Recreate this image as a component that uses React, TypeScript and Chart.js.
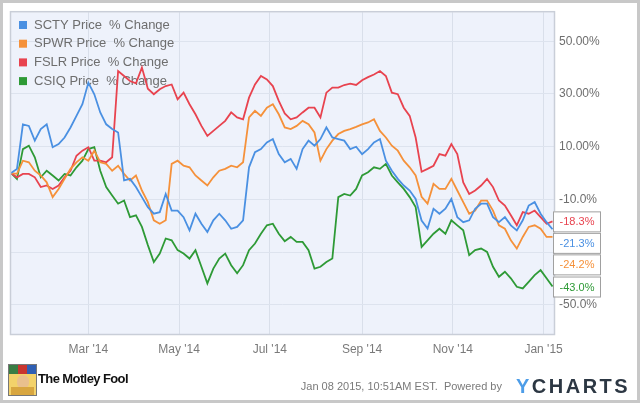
import React, { useEffect, useRef } from "react";
import { Chart, registerables } from "chart.js";

Chart.register(...registerables);

// Trading-day offsets (days since Jan 08 2014)
const days = [
  0, 4, 8, 12, 16, 20, 24, 28, 32, 36, 40, 44, 48, 52, 56, 60, 64, 68, 72, 76, 80, 84, 88, 92,
  96, 100, 104, 108, 112, 116, 120, 124, 128, 132, 136, 140, 144, 148, 152, 156, 160, 164, 168, 172, 176, 180, 184,
  188, 192, 196, 200, 204, 208, 212, 216, 220, 224, 228, 232, 236, 240, 244, 248, 252, 256, 260, 264, 268, 272, 276,
  280, 284, 288, 292, 296, 300, 304, 308, 312, 316, 320, 324, 328, 332, 336, 340, 344, 348, 352, 356, 360, 364,
];

const scty = [
  0, 1.6, 18.5, 17.9, 12.3, 16.7, 18.5, 9.8, 11.0, 13.5, 17.3, 21.7, 26.1, 34.3, 29.9, 23.0, 18.5, 16.7, 15.4, -2.8, -2.2, -5.3, -9.1, -12.9,
  -15.4, -14.8, -7.9, -14.2, -14.2, -16.7, -21.7, -15.4, -19.2, -22.3, -17.9, -15.4, -17.9, -21.1, -20.4, -17.9, 2.2, 7.9, 9.1, 11.6, 12.9, 7.2, 4.1,
  5.4, 1.6, 9.1, 12.3, 10.4, 12.9, 17.3, 13.5, 12.9, 12.3, 9.1, 10.0, 7.2, 9.1, 11.6, 12.9, 4.7, 0.9, -2.2, -4.7, -6.6, -9.8, -18.0,
  -21.0, -13.5, -15.4, -13.5, -9.8, -16.7, -18.6, -17.9, -13.5, -11.6, -11.6, -16.7, -18.6, -16.7, -19.8, -21.7, -17.9, -12.3, -11.0, -15.4, -18.6, -21.3,
];

const spwr = [
  0, -0.3, 4.7, 4.1, 0.9, -0.9, -3.5, -9.1, -6.0, -2.2, 1.6, 4.1, 6.0, 4.7, 8.5, 4.1, 3.5, 0.9, 2.8, -0.3, -2.8, -0.9, -6.6, -11.0,
  -17.9, -19.2, -17.9, 3.5, 4.7, 2.8, 2.2, -0.9, -2.8, -4.7, -1.6, 0.9, 1.6, 2.8, 2.2, 4.1, 21.1, 23.6, 21.7, 24.8, 26.1, 22.3, 17.3,
  16.7, 17.9, 19.8, 18.5, 15.4, 4.7, 9.1, 12.3, 14.8, 16.0, 16.7, 17.5, 18.5, 19.2, 20.4, 16.0, 13.5, 10.4, 8.5, 4.7, 2.2, -0.9, -9.0,
  -11.6, -4.1, -6.0, -6.0, -2.2, -6.6, -11.0, -15.4, -14.2, -10.4, -10.4, -14.2, -19.8, -21.1, -25.5, -28.6, -24.2, -20.4, -19.8, -21.1, -24.2, -24.2,
];

const fslr = [
  0, -1.6, -0.3, -0.3, -1.6, -5.3, -4.7, -6.0, -4.7, -1.6, 0.9, 6.6, 8.5, 9.8, 4.7, 4.7, 4.1, 6.0, 38.7, 36.8, 34.9, 34.0, 40.0, 32.0,
  29.9, 31.8, 33.0, 33.6, 28.0, 30.5, 26.1, 22.3, 17.9, 14.1, 16.0, 17.9, 19.8, 23.0, 21.1, 20.4, 28.6, 33.6, 36.8, 35.5, 33.0, 27.4, 22.6,
  20.4, 21.1, 23.0, 24.8, 24.8, 21.1, 30.5, 32.4, 32.4, 33.4, 33.9, 33.4, 35.2, 36.4, 37.4, 38.7, 36.8, 30.5, 29.9, 24.8, 21.7, 13.5, 0.5,
  1.6, 2.8, 7.2, 6.6, 11.0, 7.2, -3.5, -7.9, -6.6, -4.7, -2.2, -5.3, -10.4, -12.3, -16.0, -19.8, -14.8, -15.4, -14.2, -16.7, -19.2, -18.3,
];

const csiq = [
  0, -2.2, 9.1, 10.4, 6.0, -1.6, 0.9, -0.9, -2.8, -0.3, -0.9, 2.2, 4.7, 9.1, 9.8, 0.9, -5.3, -8.5, -11.6, -10.4, -16.7, -16.0, -20.4, -27.3,
  -33.7, -30.5, -24.8, -25.5, -29.2, -30.5, -32.4, -29.2, -35.5, -41.8, -36.2, -32.4, -30.5, -34.9, -38.0, -34.9, -29.2, -26.7, -23.0, -19.8, -19.2, -23.0, -25.8,
  -24.2, -26.1, -26.1, -29.2, -36.2, -35.5, -33.7, -32.4, -9.1, -7.9, -8.5, -6.0, -0.9, 0.3, 2.2, 1.6, 3.5, -0.9, -3.5, -6.0, -9.1, -12.9, -28.0,
  -25.5, -23.0, -21.1, -23.0, -17.9, -19.8, -21.7, -31.1, -29.2, -28.6, -29.9, -35.5, -39.3, -37.4, -39.9, -43.1, -43.7, -41.2, -38.7, -36.8, -39.9, -43.0,
];

const seriesNames = ["SCTY Price  % Change", "SPWR Price  % Change", "FSLR Price  % Change", "CSIQ Price  % Change"];
const seriesColors = ["#4a90e2", "#f5913a", "#e8434f", "#2e9a36"];
const seriesValues = [scty, spwr, fslr, csiq];

const monthTickDays = [52, 113, 174, 236, 297, 358];
const monthTickLabels = ["Mar '14", "May '14", "Jul '14", "Sep '14", "Nov '14", "Jan '15"];
const yTicks = [-50, -30, -10, 10, 30, 50];

const FONT = '"Liberation Sans", Arial, sans-serif';

export default function App() {
  const ref = useRef<HTMLCanvasElement>(null);

  useEffect(() => {
    const canvas = ref.current!;

    const decor = {
      id: "decor",
      beforeDraw(chart: any) {
        const { ctx, chartArea: a } = chart;
        ctx.save();
        ctx.fillStyle = "#ffffff";
        ctx.fillRect(0, 0, chart.width, chart.height);
        ctx.fillStyle = "#eef2fb";
        ctx.fillRect(a.left, a.top, a.right - a.left, a.bottom - a.top);
        ctx.restore();
      },
      beforeDatasetsDraw(chart: any) {
        const { ctx } = chart;
        ctx.save();
        ctx.font = `13px ${FONT}`;
        ctx.textBaseline = "middle";
        seriesNames.forEach((name, i) => {
          const y = 25 + i * 18.7;
          ctx.fillStyle = seriesColors[i];
          ctx.fillRect(19, y - 4, 8, 8);
          ctx.fillStyle = "#6e6e6e";
          ctx.fillText(name, 34, y);
        });
        ctx.restore();
      },
      afterDraw(chart: any) {
        const { ctx, chartArea: a } = chart;
        const ys = chart.scales.y;
        ctx.save();
        // plot frame
        ctx.strokeStyle = "#c9ced8";
        ctx.lineWidth = 1.5;
        ctx.strokeRect(a.left - 0.5, a.top - 0.5, a.right - a.left + 1, a.bottom - a.top + 1);
        // outer frame
        ctx.strokeStyle = "#c8c8c8";
        ctx.lineWidth = 3;
        ctx.strokeRect(1.5, 1.5, chart.width - 3, chart.height - 3);

        // last value flags
        const items = seriesValues.map((vals, i) => ({
          v: vals[vals.length - 1],
          color: seriesColors[i],
        }));
        items.sort((p, q) => q.v - p.v);
        const h = 20;
        let prev = -Infinity;
        items.forEach((it) => {
          let y = ys.getPixelForValue(it.v);
          if (y < prev + h + 1.5) y = prev + h + 1.5;
          prev = y;
          const x = a.right - 1;
          ctx.fillStyle = "#ffffff";
          ctx.fillRect(x, y - h / 2, 47, h);
          ctx.strokeStyle = "#a0a0a0";
          ctx.lineWidth = 1;
          ctx.strokeRect(x + 0.5, y - h / 2 + 0.5, 47, h);
          ctx.fillStyle = it.color;
          ctx.font = `11px ${FONT}`;
          ctx.textAlign = "center";
          ctx.textBaseline = "middle";
          ctx.fillText(it.v.toFixed(1) + "%", x + 24, y + 1);
        });
        ctx.restore();
      },
    };

    const chart = new Chart(canvas, {
      type: "line",
      data: {
        datasets: seriesValues.map((vals, i) => ({
          label: seriesNames[i],
          data: days.map((d, j) => ({ x: d, y: vals[j] })),
          borderColor: seriesColors[i],
          backgroundColor: seriesColors[i],
          borderWidth: 1.8,
          pointRadius: 0,
          tension: 0,
          fill: false,
        })),
      },
      options: {
        responsive: false,
        animation: false,
        devicePixelRatio: 1,
        layout: { padding: { left: 11, top: 12, right: 0, bottom: 0 } },
        plugins: { legend: { display: false }, tooltip: { enabled: false } },
        scales: {
          x: {
            type: "linear",
            min: 0,
            max: 365,
            afterBuildTicks: (s: any) => {
              s.ticks = monthTickDays.map((v) => ({ value: v }));
            },
            afterFit: (s: any) => {
              s.height = 403 - 334;
            },
            ticks: {
              autoSkip: false,
              maxRotation: 0,
              padding: 8,
              color: "#7a7a7a",
              font: { family: FONT, size: 12 },
              callback: (_v: any, i: number) => monthTickLabels[i],
            },
            grid: { color: "#d9dfea", lineWidth: 1, drawTicks: false },
            border: { display: false },
          },
          y: {
            type: "linear",
            position: "right",
            min: -61,
            max: 61,
            afterBuildTicks: (s: any) => {
              s.ticks = yTicks.map((v) => ({ value: v }));
            },
            afterFit: (s: any) => {
              s.width = 640 - 554;
            },
            ticks: {
              padding: 5,
              color: "#6e6e6e",
              font: { family: FONT, size: 12 },
              callback: (v: any) => {
                const n = Number(v);
                if (n === -30) return "";
                return n > 0 ? n.toFixed(2) + "%" : n.toFixed(1) + "%";
              },
            },
            grid: { color: "#dde3ee", lineWidth: 1, drawTicks: false },
            border: { display: false },
          },
        },
      },
      plugins: [decor],
    } as any);

    return () => chart.destroy();
  }, []);

  return (
    <div style={{ position: "fixed", left: 0, top: 0, width: 640, height: 403, background: "#fff", overflow: "hidden" }}>
      <canvas ref={ref} width={640} height={403} style={{ position: "absolute", left: 0, top: 0, width: 640, height: 403 }} />
      {/* Motley Fool logo */}
      <div
        style={{
          position: "absolute",
          left: 8,
          top: 364,
          width: 27,
          height: 30,
          border: "1px solid #777",
          background: "#f3d26a",
          overflow: "hidden",
        }}
      >
        <div style={{ position: "absolute", left: 0, top: 0, width: 9, height: 9, background: "#3a7d44" }} />
        <div style={{ position: "absolute", left: 9, top: 0, width: 9, height: 9, background: "#c8352f" }} />
        <div style={{ position: "absolute", left: 18, top: 0, width: 9, height: 9, background: "#2f5fb3" }} />
        <div style={{ position: "absolute", left: 8, top: 10, width: 12, height: 14, borderRadius: 6, background: "#e9c08e" }} />
        <div style={{ position: "absolute", left: 2, top: 22, width: 23, height: 8, background: "#d8a640" }} />
      </div>
      <div
        style={{
          position: "absolute",
          left: 38,
          top: 371,
          fontFamily: '"Liberation Sans Narrow", "Liberation Sans", Arial, sans-serif',
          fontWeight: "bold",
          fontSize: 13,
          letterSpacing: "-0.6px",
          color: "#111",
          whiteSpace: "pre",
        }}
      >
        The Motley Fool
      </div>
      <div
        style={{
          position: "absolute",
          right: 138,
          top: 380,
          fontFamily: FONT,
          fontSize: 11,
          color: "#7a7a7a",
          whiteSpace: "pre",
        }}
      >
        Jan 08 2015, 10:51AM EST.  Powered by
      </div>
      <div
        style={{
          position: "absolute",
          left: 516,
          top: 375,
          fontFamily: FONT,
          fontWeight: "bold",
          fontSize: 20,
          letterSpacing: "2.5px",
          color: "#2c3743",
          whiteSpace: "pre",
        }}
      >
        <span style={{ color: "#4d9de8" }}>Y</span>CHARTS
      </div>
    </div>
  );
}
